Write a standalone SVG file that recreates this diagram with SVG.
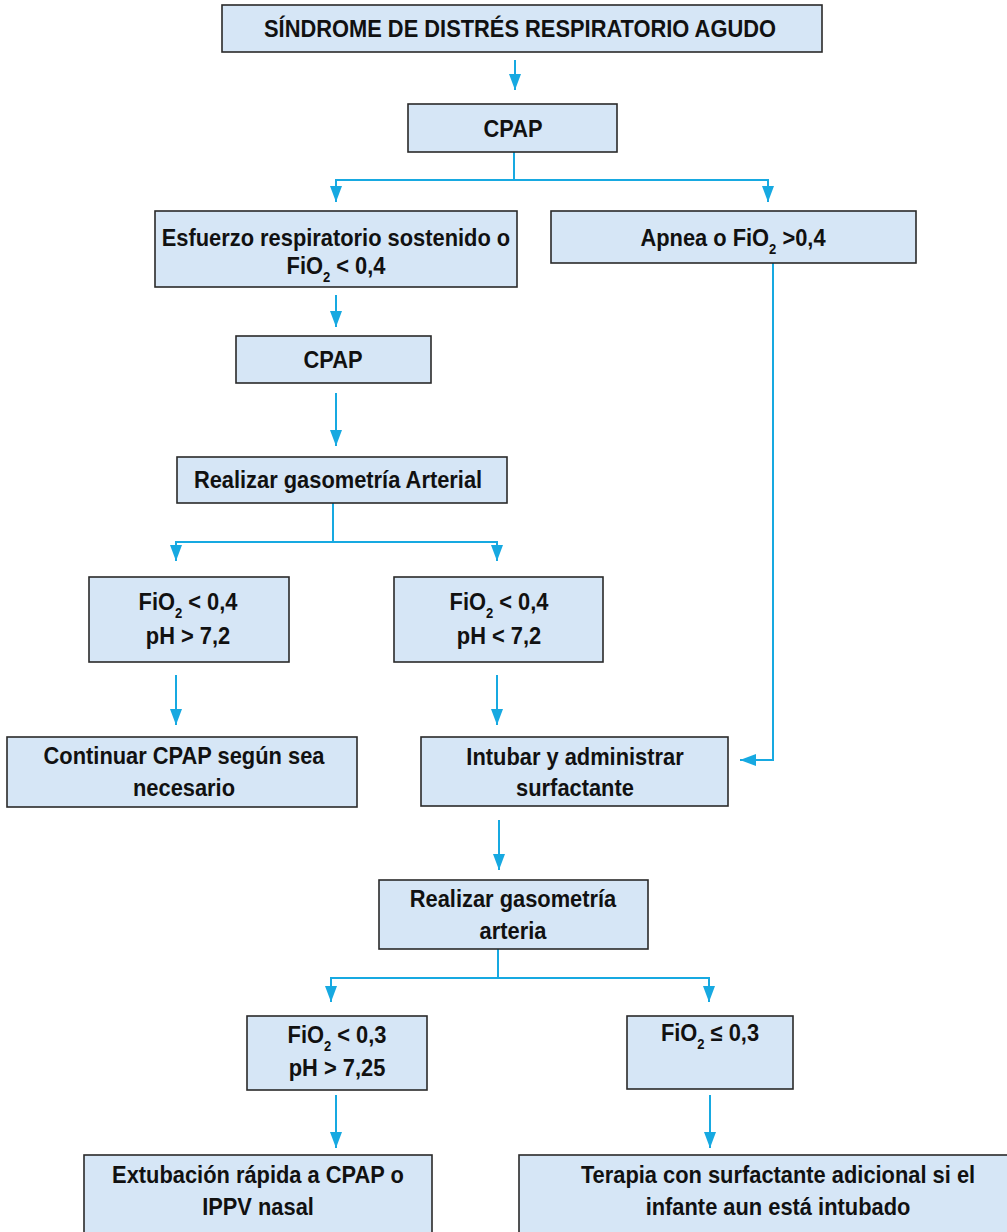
<svg xmlns="http://www.w3.org/2000/svg" width="1007" height="1232" viewBox="0 0 1007 1232">
<defs>
<style>
.box{fill:#d6e6f6;stroke:#2a2a2a;stroke-width:1.6}
.t{font-family:"Liberation Sans",Arial,sans-serif;font-weight:bold;font-size:23.5px;fill:#111;text-anchor:middle}
.sub{font-size:14px}
.c{fill:none;stroke:#17a9e1;stroke-width:2}
</style>
<marker id="ah" markerUnits="userSpaceOnUse" markerWidth="16" markerHeight="12" refX="16" refY="6" orient="auto">
<path d="M0,0 L16,6 L0,12 z" fill="#17a9e1"/>
</marker>
</defs>
<rect width="1007" height="1232" fill="#fff"/>
<g id="connectors">
<path class="c" d="M515,60 V90" marker-end="url(#ah)"/>
<path class="c" d="M514,152 V180 H336 V202" marker-end="url(#ah)"/>
<path class="c" d="M514,180 H768 V202" marker-end="url(#ah)"/>
<path class="c" d="M773,263 V760 H740" marker-end="url(#ah)"/>
<path class="c" d="M336,295 V327" marker-end="url(#ah)"/>
<path class="c" d="M336,393 V446" marker-end="url(#ah)"/>
<path class="c" d="M333,503 V542 H176 V561" marker-end="url(#ah)"/>
<path class="c" d="M333,542 H497 V561" marker-end="url(#ah)"/>
<path class="c" d="M176,675 V725" marker-end="url(#ah)"/>
<path class="c" d="M497,675 V725" marker-end="url(#ah)"/>
<path class="c" d="M499,820 V870" marker-end="url(#ah)"/>
<path class="c" d="M498,949 V978 H331 V1002" marker-end="url(#ah)"/>
<path class="c" d="M498,978 H709 V1002" marker-end="url(#ah)"/>
<path class="c" d="M336,1095 V1148" marker-end="url(#ah)"/>
<path class="c" d="M710,1095 V1148" marker-end="url(#ah)"/>
</g>
<g id="n1"><rect class="box" x="222" y="5" width="600" height="47"/><text class="t" transform="translate(520,37) scale(0.93,1)">SÍNDROME DE DISTRÉS RESPIRATORIO AGUDO</text></g>
<g id="n2"><rect class="box" x="408" y="104" width="209" height="48"/><text class="t" transform="translate(513,137) scale(0.93,1)">CPAP</text></g>
<g id="n3"><rect class="box" x="155" y="211" width="362" height="76"/><text class="t" transform="translate(336,246) scale(0.93,1)">Esfuerzo respiratorio sostenido o</text><text class="t" transform="translate(336,274) scale(0.93,1)">FiO<tspan class="sub" dy="8">2</tspan><tspan dy="-8"> &lt; 0,4</tspan></text></g>
<g id="n4"><rect class="box" x="551" y="211" width="365" height="52"/><text class="t" transform="translate(733,246) scale(0.93,1)">Apnea o FiO<tspan class="sub" dy="8">2</tspan><tspan dy="-8"> &gt;0,4</tspan></text></g>
<g id="n5"><rect class="box" x="236" y="336" width="195" height="47"/><text class="t" transform="translate(333,368) scale(0.93,1)">CPAP</text></g>
<g id="n6"><rect class="box" x="177" y="457" width="330" height="46"/><text class="t" transform="translate(338,488) scale(0.93,1)">Realizar gasometría Arterial</text></g>
<g id="n7"><rect class="box" x="89" y="577" width="200" height="85"/><text class="t" transform="translate(188,610) scale(0.93,1)">FiO<tspan class="sub" dy="8">2</tspan><tspan dy="-8"> &lt; 0,4</tspan></text><text class="t" transform="translate(188,644) scale(0.93,1)">pH &gt; 7,2</text></g>
<g id="n8"><rect class="box" x="394" y="577" width="209" height="85"/><text class="t" transform="translate(499,610) scale(0.93,1)">FiO<tspan class="sub" dy="8">2</tspan><tspan dy="-8"> &lt; 0,4</tspan></text><text class="t" transform="translate(499,644) scale(0.93,1)">pH &lt; 7,2</text></g>
<g id="n9"><rect class="box" x="7" y="737" width="350" height="70"/><text class="t" transform="translate(184,764) scale(0.93,1)">Continuar CPAP según sea</text><text class="t" transform="translate(184,796) scale(0.93,1)">necesario</text></g>
<g id="n10"><rect class="box" x="421" y="737" width="307" height="69"/><text class="t" transform="translate(575,765) scale(0.93,1)">Intubar y administrar</text><text class="t" transform="translate(575,796) scale(0.93,1)">surfactante</text></g>
<g id="n11"><rect class="box" x="379" y="880" width="269" height="69"/><text class="t" transform="translate(513,907) scale(0.93,1)">Realizar gasometría</text><text class="t" transform="translate(513,939) scale(0.93,1)">arteria</text></g>
<g id="n12"><rect class="box" x="247" y="1016" width="180" height="74"/><text class="t" transform="translate(337,1043) scale(0.93,1)">FiO<tspan class="sub" dy="8">2</tspan><tspan dy="-8"> &lt; 0,3</tspan></text><text class="t" transform="translate(337,1076) scale(0.93,1)">pH &gt; 7,25</text></g>
<g id="n13"><rect class="box" x="627" y="1016" width="166" height="73"/><text class="t" transform="translate(710,1041) scale(0.93,1)">FiO<tspan class="sub" dy="8">2</tspan><tspan dy="-8"> ≤ 0,3</tspan></text></g>
<g id="n14"><rect class="box" x="84" y="1155" width="348" height="90"/><text class="t" transform="translate(258,1183) scale(0.93,1)">Extubación rápida a CPAP o</text><text class="t" transform="translate(258,1215) scale(0.93,1)">IPPV nasal</text></g>
<g id="n15"><rect class="box" x="519" y="1155" width="500" height="90"/><text class="t" transform="translate(778,1183) scale(0.93,1)">Terapia con surfactante adicional si el</text><text class="t" transform="translate(778,1215) scale(0.93,1)">infante aun está intubado</text></g>
</svg>
